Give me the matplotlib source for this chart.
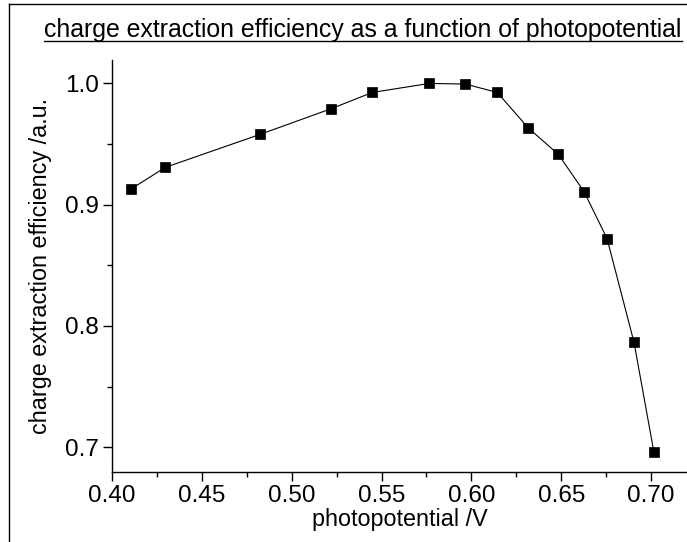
import numpy as np
import matplotlib.pyplot as plt
from matplotlib.lines import Line2D
from matplotlib.ticker import MultipleLocator, FormatStrFormatter

plt.rcParams['font.family'] = ['Liberation Sans', 'DejaVu Sans']

# data
photopotential = [0.4106, 0.4297, 0.4825, 0.5220, 0.5449, 0.5766, 0.5966,
                  0.6144, 0.6317, 0.6484, 0.6627, 0.6755, 0.6905, 0.7016]
efficiency = [0.9128, 0.9306, 0.9578, 0.9789, 0.9923, 0.9997, 0.9992,
              0.9923, 0.9630, 0.9413, 0.9106, 0.8720, 0.7866, 0.6960]

title = 'charge extraction efficiency as a function of photopotential'
xlabel = 'photopotential /V'
ylabel = 'charge extraction efficiency /a.u.'

W, H = 687, 542
fig = plt.figure(figsize=(W / 100, H / 100), dpi=100)
ax = fig.add_axes([112 / W, 1 - 471.7 / H, (W - 112) / W, (471.7 - 60) / H])

ax.plot(photopotential, efficiency, color='black', lw=0.8,
        marker='s', markersize=6.8, markerfacecolor='black',
        markeredgecolor='black', markeredgewidth=0.5)

ax.set_xlim(0.40, 0.72)
ax.set_ylim(0.68, 1.019)
ax.xaxis.set_major_locator(MultipleLocator(0.05))
ax.xaxis.set_minor_locator(MultipleLocator(0.025))
ax.yaxis.set_major_locator(MultipleLocator(0.1))
ax.yaxis.set_minor_locator(MultipleLocator(0.05))
ax.xaxis.set_major_formatter(FormatStrFormatter('%.2f'))
ax.yaxis.set_major_formatter(FormatStrFormatter('%.1f'))

for s in ['top', 'right']:
    ax.spines[s].set_visible(False)
for s in ['left', 'bottom']:
    ax.spines[s].set_linewidth(1.0)

ax.tick_params(which='major', direction='out', length=6.5, width=1.0,
               labelsize=17.5, pad=3)
ax.tick_params(which='minor', direction='out', length=3.5, width=1.0)

ax.set_xlabel(xlabel, fontsize=16.8, labelpad=1)
ax.set_ylabel(ylabel, fontsize=16.8, labelpad=9)

# title with underline
t = fig.text(363 / W, 1 - 37 / H, title, ha='center', va='baseline',
             fontsize=17.9)
fig.canvas.draw()
bb = t.get_window_extent(renderer=fig.canvas.get_renderer())
uy = 1 - 40.5 / H
fig.add_artist(Line2D([bb.x0 / W, bb.x1 / W], [uy, uy], color='black', lw=1.0))

# frame around the figure (only left and top edges visible)
bx, by = 9 / W, 1 - 4.3 / H
fig.add_artist(Line2D([bx, bx], [0, by], color='black', lw=1.0))
fig.add_artist(Line2D([bx, 1], [by, by], color='black', lw=1.0))

fig.savefig('out.png', dpi=100)
